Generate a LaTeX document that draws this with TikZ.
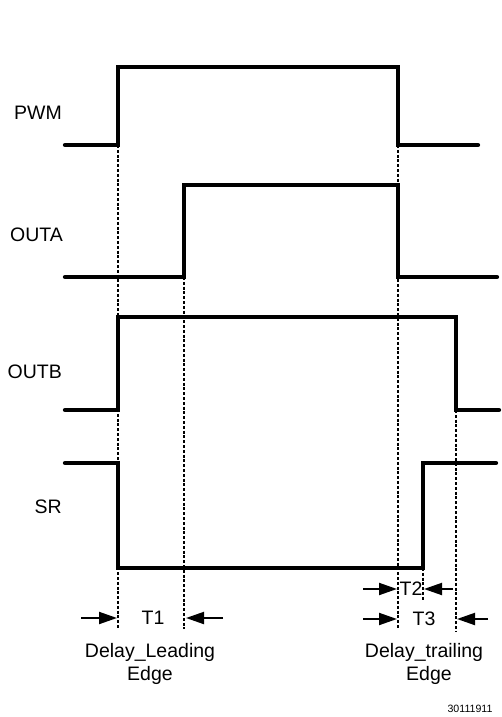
\documentclass[tikz,border=0pt]{standalone}
\usepackage{fontspec}
\setmainfont{Liberation Sans}
\usetikzlibrary{arrows.meta}
\begin{document}
\begin{tikzpicture}[x=1pt,y=-1pt,
  sig/.style={line width=4.3pt, line join=miter, line cap=round},
  guide/.style={line width=1.3pt, dash pattern=on 3pt off 1.8pt},
  dim/.style={line width=2pt, -{Triangle[length=18pt,width=12pt]}},
  lbl/.style={font=\fontsize{19.5}{23}\selectfont, inner sep=0pt},
  small/.style={font=\fontsize{10.6}{12}\selectfont, inner sep=0pt}]
\useasboundingbox[fill=white] (0,0) rectangle (501,717);
% guide lines
\draw[guide] (118,145) -- (118,629);
\draw[guide] (184,277) -- (184,629);
\draw[guide] (398,145) -- (398,629);
\draw[guide] (423,568) -- (423,601);
\draw[guide] (456,410) -- (456,632);
% waveforms
\draw[sig] (65,145) -- (118,145) -- (118,67) -- (398,67) -- (398,145) -- (478,145);
\draw[sig] (65,277) -- (184,277) -- (184,185) -- (398,185) -- (398,277) -- (497,277);
\draw[sig] (65,410) -- (118,410) -- (118,317) -- (456,317) -- (456,410) -- (499,410);
\draw[sig] (65,463) -- (118,463) -- (118,568) -- (423,568) -- (423,463) -- (496,463);
% signal labels
\node[lbl, anchor=east] (pwm) at (62,113) {PWM};
\node[lbl, anchor=east] (outa) at (63,235) {OUTA};
\node[lbl, anchor=east] (outb) at (62,372) {OUTB};
\node[lbl, anchor=east] (sr) at (62,507) {SR};
% T1
\node[lbl] (t1) at (153,618) {T1};
\coordinate (t1la) at (81,618); \coordinate (t1lb) at (117,618);
\coordinate (t1ra) at (223,618); \coordinate (t1rb) at (186,618);
\draw[dim] (t1la) -- (t1lb);
\draw[dim] (t1ra) -- (t1rb);
% T2
\node[lbl] (t2) at (411,589) {T2};
\coordinate (t2la) at (363,589); \coordinate (t2lb) at (397,589);
\coordinate (t2ra) at (453,589); \coordinate (t2rb) at (424,589);
\draw[dim] (t2la) -- (t2lb);
\draw[dim] (t2ra) -- (t2rb);
% T3
\node[lbl] (t3) at (424,619) {T3};
\coordinate (t3la) at (363,619); \coordinate (t3lb) at (397,619);
\coordinate (t3ra) at (488,619); \coordinate (t3rb) at (457,619);
\draw[dim] (t3la) -- (t3lb);
\draw[dim] (t3ra) -- (t3rb);
% captions
\node[lbl] (dl1) at (150,652) {Delay\_Leading};
\node[lbl] (dl2) at (150,675) {Edge};
\node[lbl] (dt1) at (424,652) {Delay\_trailing};
\node[lbl] (dt2) at (429,675) {Edge};
\node[small] (num) at (470,709) {30111911};
\end{tikzpicture}
\end{document}
